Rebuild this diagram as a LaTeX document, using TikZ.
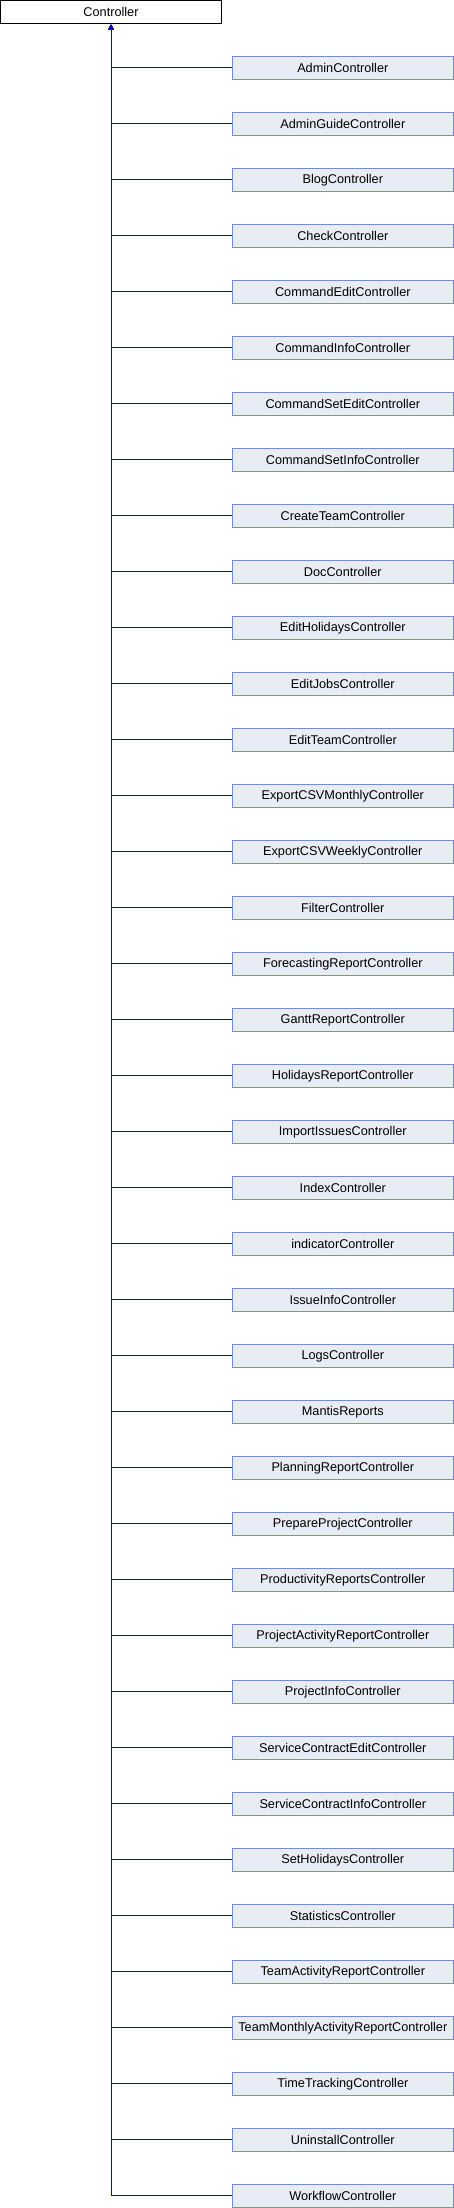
\documentclass[tikz,border=0pt]{standalone}
\usepackage{fontspec}
\setmainfont{Liberation Sans}
\usetikzlibrary{arrows.meta}
\definecolor{edgeblue}{RGB}{16,16,150}
\definecolor{boxfill}{RGB}{232,236,244}
\definecolor{boxline}{RGB}{118,142,200}
\tikzset{
  x=1bp,y=1bp,
  base/.style={rectangle,minimum width=221bp,minimum height=23bp,inner sep=0pt,
    font=\fontsize{12.7bp}{14bp}\selectfont,line width=1bp},
  parentbox/.style={base,draw=black,fill=white},
  childbox/.style={base,draw=boxline,fill=boxfill},
  inherit/.style={draw=edgeblue,line width=0.9bp,shorten >=1bp,-{Triangle[length=5bp,width=5bp]}}
}
\begin{document}
\begin{tikzpicture}
\useasboundingbox (0,0) rectangle (454,-2208);
\node[parentbox] (p) at (111,-11.8) {Controller};
\foreach \n [count=\i] in {AdminController,AdminGuideController,BlogController,CheckController,CommandEditController,CommandInfoController,CommandSetEditController,CommandSetInfoController,CreateTeamController,DocController,EditHolidaysController,EditJobsController,EditTeamController,ExportCSVMonthlyController,ExportCSVWeeklyController,FilterController,ForecastingReportController,GanttReportController,HolidaysReportController,ImportIssuesController,IndexController,indicatorController,IssueInfoController,LogsController,MantisReports,PlanningReportController,PrepareProjectController,ProductivityReportsController,ProjectActivityReportController,ProjectInfoController,ServiceContractEditController,ServiceContractInfoController,SetHolidaysController,StatisticsController,TeamActivityReportController,TeamMonthlyActivityReportController,TimeTrackingController,UninstallController,WorkflowController}{
  \node[childbox] (c\i) at (342.8,{-11.8-56*\i}) {\n};
  \draw[inherit] (c\i.west) -| (p.south);
}
\end{tikzpicture}
\end{document}
